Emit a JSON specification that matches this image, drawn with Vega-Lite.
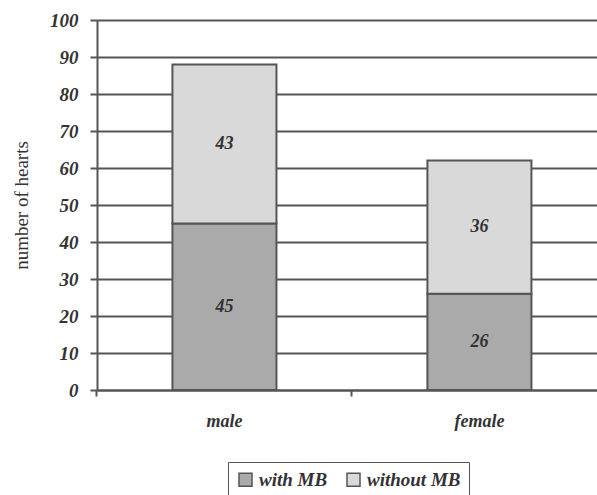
{
  "$schema": "https://vega.github.io/schema/vega-lite/v6.json",
  "autosize": "none",
  "width": 500,
  "height": 370,
  "padding": {"left": 97, "top": 20, "right": 0, "bottom": 105},
  "background": "white",
  "config": {
    "view": {"stroke": null},
    "font": "Liberation Serif"
  },
  "data": {
    "values": [
      {"sex": "male", "group": "with MB", "n": 45},
      {"sex": "male", "group": "without MB", "n": 43},
      {"sex": "female", "group": "with MB", "n": 26},
      {"sex": "female", "group": "without MB", "n": 36}
    ]
  },
  "encoding": {
    "x": {
      "field": "sex",
      "type": "nominal",
      "sort": ["male", "female"],
      "scale": {"paddingInner": 0.592, "paddingOuter": 0.2765, "align": 0.535},
      "axis": {
        "title": null,
        "labelAngle": 0,
        "labelFont": "Liberation Serif",
        "labelFontSize": 18,
        "labelFontWeight": "bold",
        "labelFontStyle": "italic",
        "labelColor": "#333333",
        "labelPadding": 16,
        "bandPosition": -0.726,
        "tickSize": 6,
        "tickWidth": 2,
        "tickColor": "#555555",
        "domainColor": "#555555",
        "domainWidth": 2,
        "grid": false
      }
    },
    "y": {
      "field": "n",
      "type": "quantitative",
      "stack": "zero",
      "scale": {"domain": [0, 100]},
      "axis": {
        "title": "number of hearts",
        "titleFont": "Liberation Serif",
        "titleFontSize": 19,
        "titleFontWeight": "normal",
        "titleColor": "#333333",
        "titlePadding": 18,
        "values": [0, 10, 20, 30, 40, 50, 60, 70, 80, 90, 100],
        "labelOverlap": false,
        "labelFont": "Liberation Serif",
        "labelFontSize": 19,
        "labelFontWeight": "bold",
        "labelFontStyle": "italic",
        "labelColor": "#333333",
        "labelPadding": 12,
        "tickSize": 7,
        "tickWidth": 2,
        "tickColor": "#555555",
        "domainColor": "#555555",
        "domainWidth": 2,
        "grid": true,
        "gridColor": "#555555",
        "gridWidth": 2,
        "gridOpacity": 1
      }
    },
    "order": {"field": "group", "type": "nominal", "sort": "ascending"}
  },
  "layer": [
    {
      "mark": {"type": "bar", "stroke": "#555555", "strokeWidth": 2},
      "encoding": {
        "color": {
          "field": "group",
          "type": "nominal",
          "scale": {"domain": ["with MB", "without MB"], "range": ["#aaaaaa", "#d9d9d9"]},
          "legend": {
            "title": null,
            "orient": "none",
            "direction": "horizontal",
            "legendX": 131,
            "legendY": 442,
            "strokeColor": "#555555",
            "padding": 8,
            "symbolType": "square",
            "symbolSize": 169,
            "symbolStrokeColor": "#555555",
            "symbolStrokeWidth": 1.5,
            "labelFont": "Liberation Serif",
            "labelFontSize": 19,
            "labelFontWeight": "bold",
            "labelFontStyle": "italic",
            "labelColor": "#333333",
            "labelOffset": 4,
            "columnPadding": 16
          }
        }
      }
    },
    {
      "mark": {"type": "text", "font": "Liberation Serif", "fontSize": 18, "fontWeight": "bold", "fontStyle": "italic", "color": "#333333", "baseline": "middle"},
      "encoding": {
        "y": {"field": "n", "type": "quantitative", "stack": "zero", "bandPosition": 0.5},
        "text": {"field": "n", "type": "quantitative"},
        "detail": {"field": "group"}
      }
    }
  ]
}
